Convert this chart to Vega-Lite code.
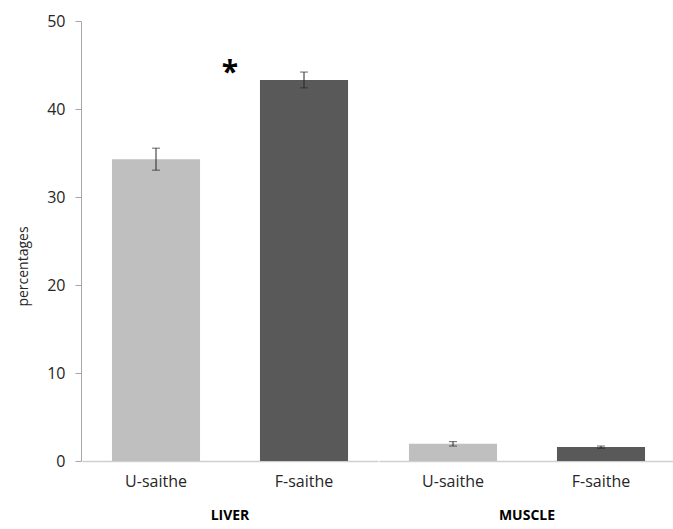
{
  "$schema": "https://vega.github.io/schema/vega-lite/v6.json",
  "padding": {"left": 16, "top": 13, "right": 0, "bottom": 0},
  "background": "white",
  "data": {
    "values": [
      {"tissue": "LIVER", "group": "U-saithe", "value": 34.3, "lo": 33.05, "hi": 35.55, "star": ""},
      {"tissue": "LIVER", "group": "F-saithe", "value": 43.3, "lo": 42.4, "hi": 44.2, "star": "*"},
      {"tissue": "MUSCLE", "group": "U-saithe", "value": 1.95, "lo": 1.7, "hi": 2.2, "star": ""},
      {"tissue": "MUSCLE", "group": "F-saithe", "value": 1.58, "lo": 1.45, "hi": 1.7, "star": ""}
    ]
  },
  "facet": {
    "column": {
      "field": "tissue",
      "type": "nominal",
      "sort": ["LIVER", "MUSCLE"],
      "header": {
        "title": null,
        "labelOrient": "bottom",
        "labelFont": "Open Sans",
        "labelFontSize": 14,
        "labelFontWeight": "bold",
        "labelColor": "#000000",
        "labelPadding": 20
      }
    }
  },
  "spacing": 0,
  "spec": {
    "width": 296,
    "height": 440,
    "encoding": {
      "x": {
        "field": "group",
        "type": "nominal",
        "sort": ["U-saithe", "F-saithe"],
        "scale": {"paddingInner": 0.405, "paddingOuter": 0.2025},
        "axis": {
          "title": null,
          "labelAngle": 0,
          "labelFont": "Open Sans",
          "labelFontSize": 16,
          "labelColor": "#262626",
          "ticks": false,
          "labelPadding": 12,
          "domainColor": "#d0d0d0",
          "domainWidth": 1.5
        }
      }
    },
    "layer": [
      {
        "mark": {"type": "bar"},
        "encoding": {
          "y": {
            "field": "value",
            "type": "quantitative",
            "scale": {"domain": [0, 50]},
            "axis": {
              "title": "percentages",
              "titleFont": "Open Sans",
              "titleFontSize": 14,
              "titleFontWeight": "normal",
              "titleColor": "#262626",
              "titleY": 245,
              "titlePadding": 16,
              "values": [0, 10, 20, 30, 40, 50],
              "grid": false,
              "labelFont": "Open Sans",
              "labelFontSize": 16,
              "labelColor": "#262626",
              "tickSize": 6,
              "tickColor": "#a6a6a6",
              "domainColor": "#a6a6a6",
              "labelPadding": 10
            }
          },
          "color": {
            "field": "group",
            "type": "nominal",
            "scale": {"domain": ["U-saithe", "F-saithe"], "range": ["#bfbfbf", "#595959"]},
            "legend": null
          }
        }
      },
      {
        "mark": {"type": "rule", "color": "#262626", "strokeWidth": 1},
        "encoding": {
          "y": {"field": "lo", "type": "quantitative"},
          "y2": {"field": "hi"}
        }
      },
      {
        "mark": {"type": "tick", "color": "#262626", "thickness": 1, "size": 8},
        "encoding": {"y": {"field": "lo", "type": "quantitative"}}
      },
      {
        "mark": {"type": "tick", "color": "#262626", "thickness": 1, "size": 8},
        "encoding": {"y": {"field": "hi", "type": "quantitative"}}
      },
      {
        "mark": {"type": "text", "font": "Open Sans", "fontSize": 30, "fontWeight": "bold", "color": "#000000", "baseline": "middle", "dx": -30, "dy": 8},
        "encoding": {
          "x": {"field": "group", "type": "nominal", "sort": ["U-saithe", "F-saithe"], "bandPosition": 0},
          "y": {"datum": 45, "type": "quantitative"},
          "text": {"field": "star"}
        }
      }
    ]
  },
  "config": {"view": {"stroke": null}}
}
